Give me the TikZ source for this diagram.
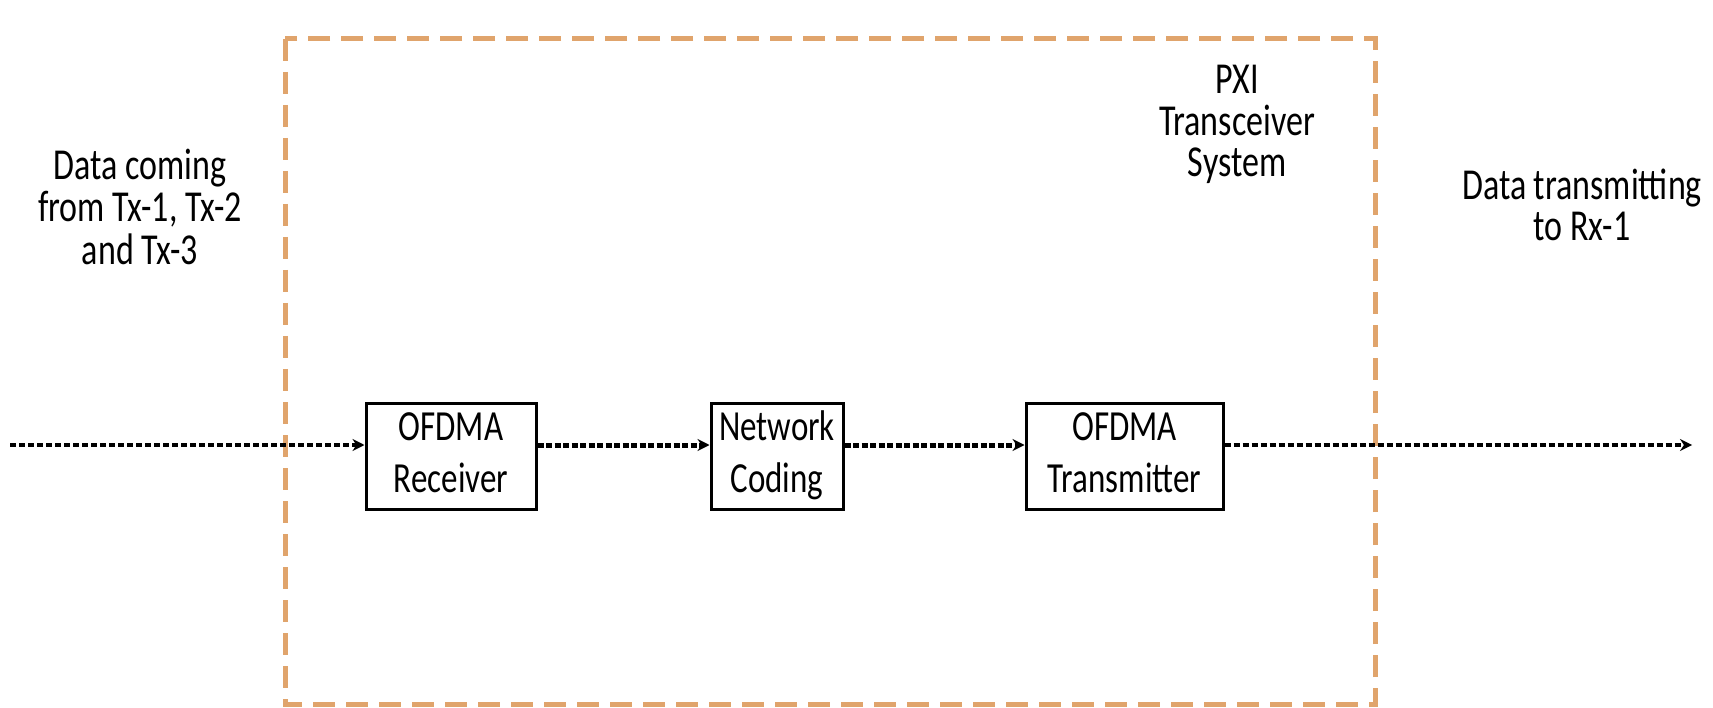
\documentclass[tikz,border=0pt]{standalone}
\usepackage{fontspec}
\usepackage{graphicx}
\setmainfont{Carlito}
\usetikzlibrary{arrows.meta}
\definecolor{pxiorange}{RGB}{224,164,108}
\newcommand{\stx}[1]{\scalebox{1}[1.3]{\fontsize{33}{40}\selectfont\begin{tabular}{@{}c@{}}#1\end{tabular}}}
\newcommand{\stxl}[1]{\scalebox{1}[1.3]{\fontsize{34}{31}\selectfont\begin{tabular}{@{}c@{}}#1\end{tabular}}}
\begin{document}
\begin{tikzpicture}[x=1pt,y=-1pt,
  blockbox/.style={draw=black, line width=3pt, inner sep=0pt, minimum height=106pt, fill=white},
  label/.style={inner sep=0pt},
  flowin/.style={line width=4pt, dash pattern=on 6pt off 3pt, -{Stealth[length=12pt,width=12pt]}},
  flowmid/.style={line width=5pt, dash pattern=on 6pt off 2.5pt, -{Stealth[length=12pt,width=12pt]}},
  pxiframe/.style={draw=pxiorange, line width=5pt, dash pattern=on 22pt off 11pt}
]
\fontsize{33}{40}\selectfont
\useasboundingbox (0,0) rectangle (1713,708);
\fill[white] (0,0) rectangle (1713,708);
\draw[pxiframe] (285,39) rectangle (1375,704);

\node[blockbox, minimum width=170pt] (rx) at (451,456) {\stx{OFDMA\\Receiver}};
\node[blockbox, minimum width=132pt] (nc) at (777,456) {\stx{Network\\Coding}};
\node[blockbox, minimum width=197pt] (tx) at (1124.5,456) {\stx{OFDMA\\Transmitter}};

\coordinate (inStart) at (10,445);
\coordinate (outEnd) at (1692,445);

\draw[flowin] (inStart) -- (inStart -| rx.west);
\draw[flowmid] (inStart -| rx.east) -- (inStart -| nc.west);
\draw[flowmid] (inStart -| nc.east) -- (inStart -| tx.west);
\draw[flowin] (inStart -| tx.east) -- (outEnd);

\node[label] (src) at (140,213) {\stxl{Data coming\\from Tx-1, Tx-2\\and Tx-3}};
\node[label] (pxi) at (1237,127) {\stxl{PXI\\Transceiver\\System}};
\node[label] (dst) at (1582,211) {\stxl{Data transmitting\\to Rx-1}};
\end{tikzpicture}
\end{document}
